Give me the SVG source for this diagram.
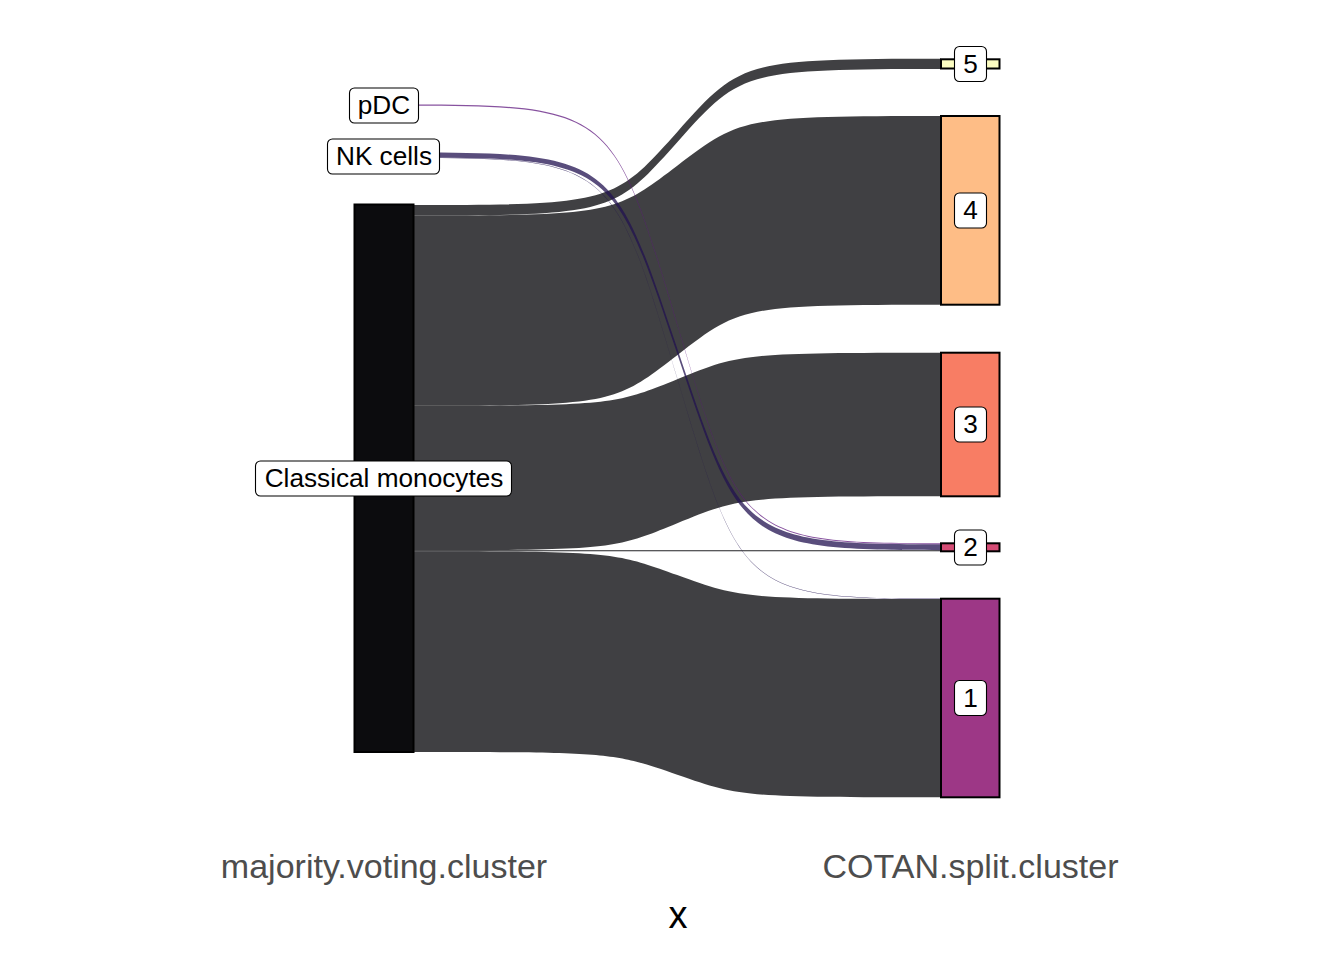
<svg xmlns="http://www.w3.org/2000/svg" width="1344" height="960" viewBox="0 0 1344 960">
<style>
.flow{stroke:none;fill-opacity:0.75}
.cl{fill:#000004}
.nk{fill:#221150}
.pdc{fill:#5F187F}
.node{stroke:#000;stroke-width:2}
.lbox{fill:#fff;stroke:#000;stroke-width:1.1}
.ltxt{font-family:"Liberation Sans",Arial,Helvetica,sans-serif;font-size:26.2px;fill:#000;text-anchor:middle}
.axis{font-family:"Liberation Sans",Arial,Helvetica,sans-serif;font-size:34px;fill:#4D4D4D;text-anchor:middle}
.title{font-family:"Liberation Sans",Arial,Helvetica,sans-serif;font-size:38px;fill:#000;text-anchor:middle}
</style>
<rect width="1344" height="960" fill="#fff"/>
<g id="connectors">
<path class="flow cl" d="M413.5,205 C614,205 614,202.08 677.25,131.9 C740.55,61.72 740.55,58.8 941,58.8 L941,69 C740.55,69 740.55,71.93 677.25,142.25 C614,212.57 614,215.5 413.5,215.5 Z"/>
<path class="flow cl" d="M413.5,215.5 C614,215.5 614,213.51 677.25,165.75 C740.55,117.99 740.55,116 941,116 L941,304.7 C740.55,304.7 740.55,306.72 677.25,355.2 C614,403.68 614,405.7 413.5,405.7 Z"/>
<path class="flow cl" d="M413.5,405.7 C614,405.7 614,404.64 677.25,379.2 C740.55,353.76 740.55,352.7 941,352.7 L941,496.3 C740.55,496.3 740.55,497.38 677.25,523.25 C614,549.12 614,550.2 413.5,550.2 Z"/>
<path d="M413.5,550.2 L941,550.2 L941,551.2 L413.5,551.2 Z" fill="#222224"/>
<path class="flow cl" d="M413.5,551.2 C614,551.2 614,552.16 677.25,575.1 C740.55,598.04 740.55,599 941,599 L941,797.3 C740.55,797.3 740.55,796.39 677.25,774.65 C614,752.91 614,752 413.5,752 Z"/>
<path class="flow nk" d="M413.5,152.5 C614,152.5 614,160.34 677.25,348.4 C740.55,536.46 740.55,544.3 941,544.3 L941,550.2 C740.55,550.2 740.55,542.35 677.25,353.85 C614,165.35 614,157.5 413.5,157.5 Z"/>
<path class="flow nk" d="M413.5,157.5 C614,157.5 614,166.32 677.25,378 C740.55,589.68 740.55,598.5 941,598.5 L941,599 C740.55,599 740.55,590.18 677.25,378.5 C614,166.82 614,158 413.5,158 Z"/>
<path class="flow pdc" d="M413.5,104.5 C614,104.5 614,113.28 677.25,323.9 C740.55,534.52 740.55,543.3 941,543.3 L941,544.3 C740.55,544.3 740.55,535.53 677.25,325.05 C614,114.57 614,105.8 413.5,105.8 Z"/>
</g>
<g id="node-classical-monocytes">
<rect class="node" x="354.5" y="204.5" width="59" height="547.5" fill="#0C0C0E"/>
<rect class="lbox" x="255.5" y="461" width="256" height="35" rx="5"/>
<text class="ltxt" x="384" y="487">Classical monocytes</text>
</g>
<g id="node-nk-cells">
<rect class="node" x="354.5" y="152.5" width="59" height="5.5" fill="#2D1D59"/>
<rect class="lbox" x="327.5" y="139" width="112" height="35" rx="5"/>
<text class="ltxt" x="384" y="165">NK cells</text>
</g>
<g id="node-pdc">
<rect class="node" x="354.5" y="104.5" width="59" height="1.3" fill="#672485"/>
<rect class="lbox" x="349.5" y="88" width="69" height="35" rx="5"/>
<text class="ltxt" x="384" y="114">pDC</text>
</g>
<g id="node-5">
<rect class="node" x="941" y="59.3" width="58.5" height="9.2" fill="#FCFDC2"/>
<rect class="lbox" x="954.5" y="46.5" width="32" height="35" rx="5"/>
<text class="ltxt" x="970.5" y="72.5">5</text>
</g>
<g id="node-4">
<rect class="node" x="941" y="116" width="58.5" height="188.7" fill="#FEBD86"/>
<rect class="lbox" x="954.5" y="193" width="32" height="35" rx="5"/>
<text class="ltxt" x="970.5" y="219">4</text>
</g>
<g id="node-3">
<rect class="node" x="941" y="352.7" width="58.5" height="143.6" fill="#F87D64"/>
<rect class="lbox" x="954.5" y="407" width="32" height="35" rx="5"/>
<text class="ltxt" x="970.5" y="433">3</text>
</g>
<g id="node-2">
<rect class="node" x="941" y="543.3" width="58.5" height="8" fill="#D54C75"/>
<rect class="lbox" x="954.5" y="530" width="32" height="35" rx="5"/>
<text class="ltxt" x="970.5" y="556">2</text>
</g>
<g id="node-1">
<rect class="node" x="941" y="598.7" width="58.5" height="198.6" fill="#9D3786"/>
<rect class="lbox" x="954.5" y="680.5" width="32" height="35" rx="5"/>
<text class="ltxt" x="970.5" y="706.5">1</text>
</g>
<g id="axis">
<text class="axis" x="384" y="878">majority.voting.cluster</text>
<text class="axis" x="970.5" y="878">COTAN.split.cluster</text>
<text class="title" x="678" y="928">x</text>
</g>
</svg>
